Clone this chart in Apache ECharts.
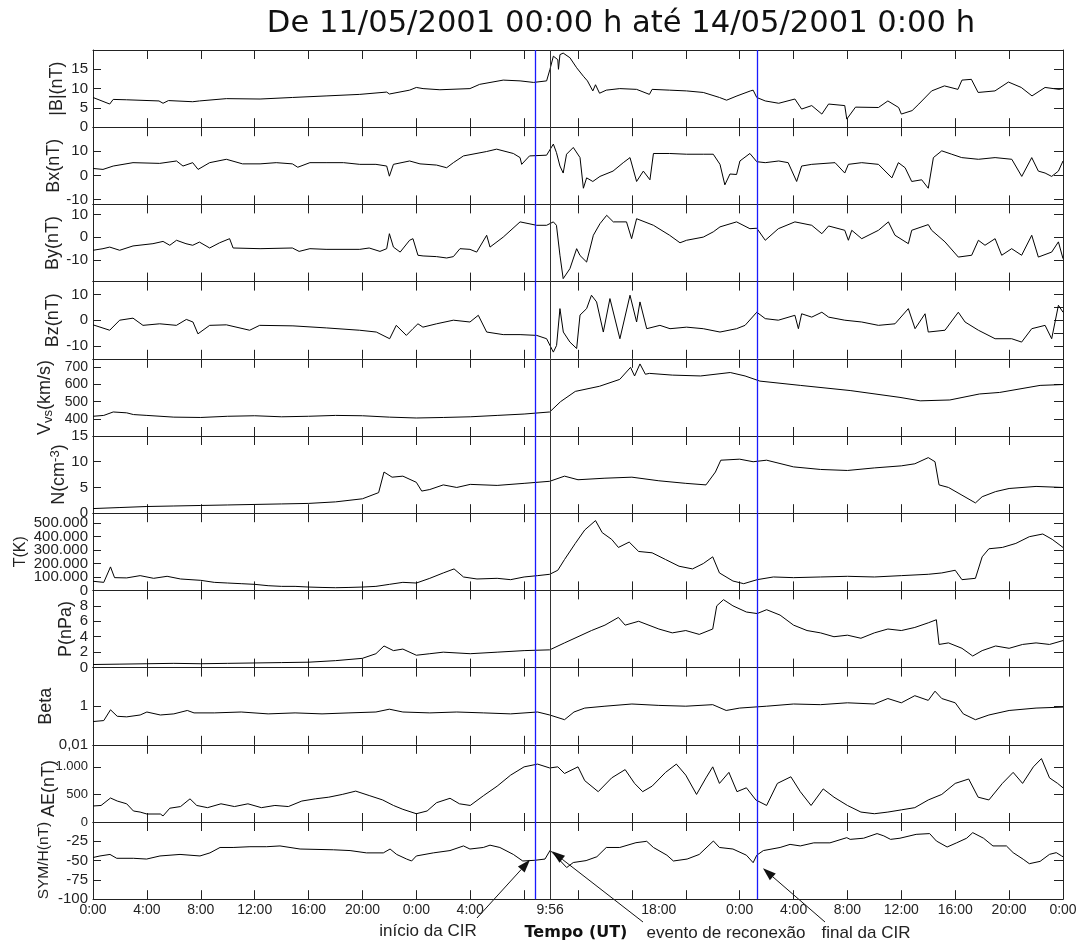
<!DOCTYPE html>
<html>
<head>
<meta charset="utf-8">
<script src="https://cdn.jsdelivr.net/npm/echarts@6/dist/echarts.min.js"></script>
<style>
  html, body { margin: 0; padding: 0; background: #fff; }
  #chart { width: 1080px; height: 944px; }
</style>
</head>
<body>
<div id="chart"></div>
<script>
// Solar wind / geomagnetic parameters, 11-14 May 2001.
// x values are hours since 11/05/2001 00:00 UT.

const bMag = [[0,7.7],[1.24,6.0],[1.5,7.2],[2.5,7.1],[4.9,6.8],[5.2,6.2],[5.6,6.9],[7.4,6.6],[7.9,6.8],[9.9,7.4],[12.4,7.3],[14.8,7.7],[17.3,8.1],[19.8,8.5],[21.8,9.1],[22.0,8.6],[23.5,9.6],[24.0,10.3],[24.5,10.0],[25.75,9.7],[27.98,10.0],[28.7,11.1],[30.45,12.2],[31.7,12.0],[32.7,11.6],[33.67,12.0],[33.92,15],[34.17,18.4],[34.5,17.5],[34.55,15],[34.66,18.8],[34.9,19.2],[35.4,18.0],[35.9,15.4],[36.4,13.2],[36.7,12.0],[37.1,9.4],[37.3,11],[37.6,8.8],[38.1,9.6],[39.1,10],[40.35,9.8],[41.3,8.5],[41.5,9.8],[42.8,9.6],[44.06,9.4],[45.3,9.0],[46.5,7.7],[47.03,7.0],[47.8,8.1],[48.8,9.4],[49.0,9.6],[49.27,7.7],[49.9,6.8],[50.9,6.2],[52.1,7.3],[52.6,4.7],[53.35,5.6],[54.1,3.4],[54.6,6.0],[55.8,5.6],[55.95,2.1],[56.6,5.2],[58.3,5.1],[59.0,6.8],[59.8,5.1],[60.0,3.4],[60.8,4.3],[61.3,6.0],[62.25,9.4],[63.2,10.7],[64.2,9.8],[64.5,12.2],[65.2,12.4],[65.7,9.0],[66.95,9.4],[67.95,11.7],[68.9,10.3],[69.7,8.1],[70.67,10.3],[71.7,9.8],[72,10.0]];

const bx = [[0,2.9],[0.74,2.5],[1.5,3.9],[2.97,5.3],[4.95,5.0],[6.2,6.0],[6.68,3.9],[7.4,5.3],[7.8,2.5],[8.66,5.3],[9.9,6.7],[11.1,4.8],[12.4,4.8],[13.6,5.3],[14.8,4.8],[15.2,3.4],[16.1,5.3],[17.3,5.3],[18.6,5.3],[19.8,4.6],[21.0,4.6],[21.8,3.9],[22.0,-0.3],[22.3,4.6],[23.5,6.0],[24.27,4.8],[25.5,4.3],[26.25,3.2],[26.75,5.3],[27.5,8.1],[29.2,9.9],[29.96,10.9],[31.2,9.1],[31.7,7.4],[31.82,4.6],[32.4,8.1],[33.67,8.4],[34.17,13],[34.4,9.5],[34.66,3.9],[34.9,1],[35.15,8.8],[35.65,11.6],[36.15,7.4],[36.4,-5.3],[36.64,-1],[37.1,-2.5],[37.63,-0.4],[38.6,1.8],[39.36,5.3],[39.86,7.4],[40.35,-2.5],[40.85,1.8],[41.34,-1.8],[41.6,9.1],[42.8,9.1],[44.06,8.8],[45.3,8.8],[46.04,8.8],[46.54,4.6],[46.9,-3.9],[47.28,0.6],[47.77,0.4],[48.02,6],[48.76,9.1],[49.27,5.7],[49.9,5.3],[50.9,6],[51.6,5.3],[52.23,-2.5],[52.6,3.9],[53.35,4.6],[55.08,5.3],[55.8,1],[56.07,4.6],[57.06,5.3],[58.3,4.6],[59.3,-1],[59.78,5.3],[60.28,3.2],[60.77,-2.5],[61.51,-1.8],[62.0,-5.3],[62.13,-5.3],[62.38,7.4],[63.0,10.2],[63.74,8.8],[64.48,7.4],[65.72,6.7],[66.96,7.4],[68.2,6.7],[68.94,-0.4],[69.68,7.4],[70.17,1.8],[70.67,1],[71.16,-0.4],[71.66,1.8],[72,6]];

const by = [[0,-5.7],[0.74,-5.0],[1.24,-4.3],[1.98,-5.7],[2.97,-3.8],[4.45,-2.8],[5.2,-1.8],[5.7,-3.5],[6.2,-1.3],[6.9,-2.8],[7.4,-3.5],[7.9,-2.1],[8.66,-4.7],[9.4,-2.4],[10.14,-0.6],[10.4,-4.7],[12.4,-5.0],[14.8,-4.7],[15.3,-6.2],[16.1,-5.0],[17.3,-5.3],[19.8,-5.3],[20.5,-4.7],[21.3,-6.2],[21.8,-5.0],[22.0,1.6],[22.3,-4.3],[22.8,-6.5],[23.5,-1.3],[23.75,-0.6],[24.12,-7.9],[24.5,-8.2],[25.5,-8.5],[26.25,-9.1],[26.75,-8.5],[27.24,-5.0],[27.98,-5.3],[28.48,-6.5],[29.22,0.9],[29.47,-4.3],[30.45,0.1],[31.7,6.8],[32.93,5.3],[33.67,5.3],[34.17,6.8],[34.4,5.3],[34.66,-7.9],[34.9,-18.2],[35.4,-13.8],[35.9,-5.0],[36.15,-8.0],[36.64,-10.9],[37.14,0.9],[37.63,6.0],[38.13,9.7],[38.62,6.8],[39.6,6.8],[39.98,-0.6],[40.35,8.2],[41.6,5.3],[42.8,0.9],[43.57,-2.4],[44.06,-1.3],[45.3,0.1],[46.04,2.4],[46.54,4.6],[47.77,6.8],[48.76,3.8],[49.27,4.0],[49.9,-1.3],[50.87,3.8],[52.1,6.8],[53.35,5.3],[54.1,1.6],[54.6,5.0],[55.8,3.1],[56.07,-1.3],[56.32,3.1],[57.06,-0.6],[58.3,3.1],[59.04,6.8],[59.53,0.9],[60.52,-2.8],[60.77,3.1],[62.0,5.6],[62.25,3.1],[63.24,-2.0],[64.23,-8.7],[65.22,-7.9],[65.72,-1.3],[66.21,-3.5],[66.96,-0.6],[67.45,-7.9],[68.19,-5.0],[68.93,-7.9],[69.68,0.9],[70.17,-8.7],[71.16,-6.5],[71.66,-2.0],[72,-9.4]];

const bz = [[0,-1.8],[1.24,-3.9],[1.98,0],[2.97,0.8],[3.71,-2.0],[4.95,-1.4],[6.19,-2.0],[6.93,0.3],[7.42,-0.7],[7.79,-5.3],[8.66,-2.0],[9.9,-1.8],[11.63,-3.9],[12.37,-2.0],[14.84,-2.2],[17.32,-3.0],[19.79,-3.9],[21.03,-4.6],[22.02,-7.2],[22.51,-2.0],[23.26,-5.9],[23.75,-3.3],[24.12,-1.4],[24.49,-2.7],[25.5,-1.4],[26.75,0],[27.98,-0.7],[28.6,1.9],[29.22,-4.6],[30.45,-5.6],[31.7,-5.6],[32.93,-5.9],[33.67,-7.2],[34.17,-12.4],[34.41,-9.8],[34.66,4.5],[34.91,-4.6],[35.4,-8.5],[35.9,-11.0],[36.15,2.0],[36.64,4.5],[37.0,9.7],[37.38,7.1],[37.88,-4.6],[38.37,8.4],[39.11,-7.2],[39.86,9.7],[40.35,-0.7],[40.6,7.1],[41.1,-3.3],[42.08,-2.0],[42.83,-3.3],[44.06,-2.7],[45.3,-3.3],[46.54,-4.6],[47.77,-3.3],[48.4,-2.0],[49.27,3.1],[49.9,0.6],[50.87,0],[52.1,1.9],[52.36,-3.3],[52.6,2.5],[53.35,1.2],[54.1,3.1],[54.6,1.2],[55.8,0],[57.06,-0.7],[58.3,-2.0],[59.53,-1.4],[60.52,4.5],[61.02,-3.3],[61.76,2.5],[62.0,-4.6],[63.24,-3.9],[64.23,3.1],[64.73,-0.7],[65.72,-3.9],[66.96,-7.2],[68.19,-7.2],[68.93,-8.5],[69.68,-3.3],[70.67,-2.0],[71.16,-7.2],[71.66,5.8],[72,3.1]];

const vsw = [[0,415],[0.8,420],[1.5,440],[2.5,435],[3,425],[4,420],[6,410],[8,408],[10,415],[12,418],[14,412],[16,415],[18,420],[20,418],[22,410],[24,405],[26,408],[28,412],[30,420],[32,428],[33.9,440],[34.7,500],[35.8,560],[37.6,590],[39.1,630],[39.9,700],[40.2,650],[40.6,720],[41.0,660],[41.3,665],[43,655],[45.1,650],[47.3,670],[48.4,650],[49.5,620],[52.5,595],[56.2,565],[59.9,525],[61.4,505],[63.6,510],[65.8,545],[67.3,554],[70.3,595],[72,600]];

const dens = [[0,0.9],[2,1.1],[4,1.3],[6,1.4],[8,1.5],[10,1.6],[12,1.7],[14,1.8],[16,1.9],[18,2.2],[20,2.8],[21.2,4],[21.6,8],[22.2,7],[23,7.2],[24,6],[24.4,4.3],[25,4.6],[26,5.5],[27,5.0],[28,5.6],[30,5.4],[32,5.8],[33.9,6.2],[35,7.2],[36,6.5],[38,6.8],[40,7.0],[42,6.3],[44,5.8],[45.5,5.5],[46.2,8],[46.6,10.3],[48,10.5],[49,10.0],[50,10.3],[52,9.0],[54,8.5],[56,8.3],[58,8.8],[60,9.2],[61,9.6],[62,10.8],[62.5,10],[62.8,5.5],[63.5,5.0],[64.5,3.5],[65.5,2.0],[66,3.2],[67,4.2],[68,4.8],[70,5.2],[72,5.0]];

const temp = [[0,68000],[0.8,60000],[1.3,175000],[1.6,95000],[2.5,93000],[3.5,110000],[4.5,90000],[5.5,105000],[6.5,85000],[8,75000],[9,60000],[10,55000],[11,50000],[12,45000],[13,35000],[14,30000],[15,30000],[16,25000],[17,22000],[18,20000],[19,22000],[20,25000],[21,30000],[22,45000],[23,60000],[24,55000],[25,90000],[26,130000],[26.8,160000],[27.5,100000],[28.5,85000],[30,90000],[31,80000],[32,100000],[33,110000],[33.9,120000],[34.5,150000],[35,230000],[35.8,350000],[36.5,450000],[37.3,520000],[37.8,430000],[38.5,380000],[39,320000],[39.8,360000],[40.5,290000],[41.5,280000],[42.5,230000],[43.5,180000],[44.5,160000],[45.3,200000],[46,250000],[46.5,130000],[47.5,70000],[48.3,50000],[49.3,80000],[50.5,100000],[52,95000],[54,100000],[56,105000],[58,100000],[60,110000],[62,120000],[63,130000],[64,150000],[64.5,80000],[65.5,90000],[66,250000],[66.5,310000],[67.5,320000],[68.5,350000],[69.5,400000],[70.5,420000],[71.2,380000],[72,320000]];

const pdyn = [[0,0.4],[2,0.45],[4,0.5],[6,0.55],[8,0.5],[10,0.55],[12,0.6],[14,0.65],[16,0.7],[18,0.9],[20,1.2],[21,1.8],[21.6,2.8],[22.3,2.2],[23,2.4],[24,1.6],[25,1.8],[26,2.0],[28,1.8],[30,2.0],[32,2.2],[33.9,2.3],[35,3.2],[36,4.0],[37,4.8],[38,5.5],[39,6.5],[39.5,5.5],[40.5,6.0],[42,5.0],[43,4.5],[44,4.8],[45,4.3],[46,5.0],[46.3,8.0],[46.8,8.8],[47.5,8.0],[48.5,7.2],[49.3,7.0],[50,7.5],[51,6.8],[52,5.5],[53,4.8],[54,4.5],[55,4.0],[56,4.2],[57,3.8],[58,4.5],[59,5.0],[60,4.8],[61,5.2],[62,5.8],[62.6,6.2],[62.8,3.0],[63.5,3.2],[64.5,2.5],[65.3,1.5],[66,2.2],[67,2.8],[68,2.5],[69,3.0],[70,3.2],[71,3.0],[72,3.5]];

const beta = [[0,0.16],[0.8,0.18],[1.3,0.65],[1.8,0.3],[2.5,0.28],[3.5,0.35],[4,0.5],[5,0.35],[6,0.4],[7,0.6],[7.5,0.45],[9,0.45],[11,0.5],[13,0.4],[15,0.45],[17,0.4],[19,0.45],[21,0.5],[22,0.7],[23,0.5],[25,0.45],[27,0.5],[29,0.45],[31,0.4],[33,0.5],[33.9,0.35],[35,0.2],[35.7,0.5],[36.5,0.8],[38,1.0],[40,1.3],[42,1.1],[44,1.0],[46,1.2],[47,0.6],[48,0.8],[50,1.0],[52,1.3],[54,1.2],[56,1.5],[58,1.3],[59,2.5],[60,1.5],[61,3.5],[62,2.0],[62.5,6],[63,2.5],[64,1.5],[64.6,0.4],[65.5,0.2],[66.5,0.35],[68,0.6],[70,0.8],[72,0.9]];

const ae = [[0,290],[0.6,300],[1.3,435],[1.8,380],[2.5,330],[3,200],[3.5,180],[4,145],[5,145],[5.2,110],[5.7,250],[6.5,280],[7.2,420],[7.7,300],[8.5,260],[9.5,330],[10.5,280],[11.5,330],[12.5,260],[13.5,300],[14.5,280],[15.5,380],[16.5,420],[17.5,450],[18.5,500],[19.5,560],[20.5,480],[21.5,400],[22.3,300],[23,230],[24,150],[24.8,200],[25.5,350],[26.5,430],[27.2,330],[28,300],[29,480],[30,650],[31,850],[32,1000],[33,1050],[33.9,980],[34.5,1000],[35,880],[36,1000],[36.5,750],[37.5,550],[38.5,800],[39.5,950],[40.2,700],[40.8,550],[41.5,650],[42.5,900],[43.3,1050],[44,850],[44.8,500],[45.5,800],[46,1000],[46.5,700],[47.2,900],[47.8,550],[48.5,620],[49.2,400],[50,300],[50.8,700],[51.8,820],[52.5,550],[53.3,300],[54.2,600],[55,450],[56,300],[57,180],[58,150],[59,180],[60,220],[61,260],[62,400],[63,500],[64,700],[65,780],[65.7,450],[66.5,400],[67.5,700],[68.3,900],[69,700],[69.8,1000],[70.4,1150],[71,800],[71.6,700],[72,620]];

const symh = [[0,-46],[0.52,-44],[1.26,-42],[1.76,-47],[2.99,-47],[3.98,-48],[4.97,-44],[6.46,-42],[7.94,-44],[8.68,-40],[9.43,-33],[10.4,-33],[11.65,-32],[12.89,-32],[13.88,-31],[15.37,-35],[17.84,-36],[19.08,-37],[20.3,-40],[21.55,-40],[22.05,-35],[22.54,-42],[23.28,-48],[23.65,-50.5],[24.0,-44],[25.26,-40],[26.5,-37],[27.5,-31],[27.98,-35],[28.97,-33],[29.47,-30],[30.2,-33],[31.2,-42],[31.9,-50.5],[32.4,-50],[32.8,-49.6],[33.55,-48],[33.93,-36.7],[34.4,-45],[35.16,-59],[35.65,-52.5],[36.6,-50],[37.4,-45],[38.1,-33],[39.1,-33],[40.3,-26.8],[41.1,-25],[41.6,-33],[42.6,-43],[43.08,-50.5],[44.1,-48],[45.0,-42],[46.05,-24.6],[46.5,-33],[47.5,-35],[48.5,-43],[49.0,-52.7],[49.27,-43],[49.76,-37],[51.0,-33],[51.74,-29],[52.5,-31],[53.5,-27],[54.7,-27],[55.95,-20.3],[56.2,-22.5],[57.2,-21],[58.2,-15],[58.7,-18],[59.2,-22.5],[59.9,-21],[61.1,-16],[62.1,-15],[62.6,-24.6],[63.4,-32.4],[64.1,-27],[64.85,-21],[65.3,-13.8],[66.1,-21],[66.8,-31],[67.8,-31],[68.3,-39.7],[69.05,-48.3],[69.5,-54],[70.3,-51],[71.0,-41.9],[71.5,-39.7],[71.9,-44],[72,-45]];

// Tick values for the y axes
const ticksB = [0, 5, 10, 15];
const ticksBx = [-10, 0, 10];
const ticksBy = [-10, 0, 10];
const ticksBz = [-10, -5, 0, 5, 10];
const ticksV = [400, 500, 600, 700];
const ticksN = [0, 5, 10, 15];
const ticksT = [0, 100000, 200000, 300000, 400000, 500000];
const ticksP = [0, 2, 4, 6, 8];
const ticksBeta = [0.01, 1];
const ticksAE = [0, 500, 1000];
const ticksSym = [-100, -75, -50, -25];

// Time axis labels (hours) and event markers
const timeLabels = [0, 4, 8, 12, 16, 20, 24, 28, 33.933, 42, 48, 52, 56, 60, 64, 68, 72];
const cirStart = 32.8;
const reconnection = 33.933;
const cirEnd = 49.3;

const panels = [
  { name: '|B|(nT)', data: bMag, min: 0, max: 20, ticks: ticksB, gap: 27 },
  { name: 'Bx(nT)', data: bx, min: -12, max: 20, ticks: ticksBx, gap: 30 },
  { name: 'By(nT)', data: by, min: -19.5, max: 14.5, ticks: ticksBy, gap: 31 },
  { name: 'Bz(nT)', data: bz, min: -15, max: 15, ticks: ticksBz, gap: 31 },
  { name: '{a|V}{s|vs}{a|(km/s)}', data: vsw, min: 300, max: 750, ticks: ticksV, gap: 38, labelSize: 14 },
  { name: '{a|N(cm}{p|-3}{a|)}', data: dens, min: 0, max: 15, ticks: ticksN, gap: 24 },
  // the crowded temperature labels are split over two label rows sharing the same scale
  { name: 'T(K)', data: temp, min: 0, max: 575000, ticks: ticksT, gap: 64, nameSize: 16, labelSize: 15,
    labelSplit: true, fmt: v => v === 0 ? '0' : Math.round(v / 1000) + '.000' },
  { name: 'P(nPa)', data: pdyn, min: 0, max: 10, ticks: ticksP, gap: 18 },
  { name: 'Beta', data: beta, min: 0.01, max: 100, ticks: ticksBeta, gap: 38, log: true,
    fmt: v => v < 0.1 ? '0,01' : '1' },
  { name: 'AE(nT)', data: ae, min: 0, max: 1400, ticks: ticksAE, gap: 35, labelSize: 13,
    namePad: [0, 10, 0, 0], fmt: v => v === 1000 ? '1.000' : String(v) },
  { name: 'SYM/H(nT)', data: symh, min: -100, max: 0, ticks: ticksSym, gap: 41, nameSize: 15.5 }
];

const TOP = 50, PANEL_H = 77.2, LEFT = 93, RIGHT = 17;
const AXIS_COLOR = '#222';
const FONT = 'Liberation Sans, Arial, sans-serif';

const grids = [], xAxes = [], yAxes = [], series = [];
panels.forEach((p, i) => {
  grids.push({ left: LEFT, right: RIGHT, top: TOP + i * PANEL_H, height: PANEL_H });
  const last = i === panels.length - 1;
  const xBase = {
    gridIndex: i, type: 'value', min: 0, max: 72, interval: 4,
    splitLine: { show: false },
    axisLine: { show: true, onZero: false, lineStyle: { color: AXIS_COLOR, width: 1 } },
    axisTick: { show: true, inside: true, length: 9, lineStyle: { color: AXIS_COLOR } }
  };
  const xIndex = xAxes.length;
  xAxes.push(Object.assign({}, xBase, {
    position: 'bottom',
    axisLabel: last ? {
      show: true, customValues: timeLabels, margin: 4, hideOverlap: false,
      color: '#222', fontFamily: FONT, fontSize: 14,
      formatter: v => Math.abs(v - reconnection) < 0.01 ? '9:56' : (Math.round(v) % 24) + ':00'
    } : { show: false }
  }));
  xAxes.push(Object.assign({}, xBase, { position: 'top', axisLabel: { show: false } }));

  const nameSize = p.nameSize || 18;
  const yBase = {
    gridIndex: i, type: p.log ? 'log' : 'value', min: p.min, max: p.max,
    splitLine: { show: false },
    axisLine: { show: true, onZero: false, lineStyle: { color: AXIS_COLOR, width: 1 } }
  };
  if (p.log) yBase.logBase = 10;
  const labelFor = values => ({
    show: true, customValues: values, margin: 5, color: '#222',
    fontFamily: FONT, fontSize: p.labelSize || 15,
    showMinLabel: true, showMaxLabel: true, hideOverlap: false,
    formatter: p.fmt || (v => String(v))
  });
  const mainLabels = p.labelSplit ? p.ticks.filter((v, k) => k % 2 === 0) : p.ticks;
  const yIndex = yAxes.length;
  const nameStyle = {
    color: '#222', fontFamily: FONT, fontSize: nameSize,
    rich: {
      a: { fontFamily: FONT, fontSize: nameSize, color: '#222' },
      s: { fontFamily: FONT, fontSize: 13, color: '#222', verticalAlign: 'bottom', padding: [7, 0, 0, 0] },
      p: { fontFamily: FONT, fontSize: 13, color: '#222', verticalAlign: 'top', padding: [0, 0, 7, 0] }
    }
  };
  if (p.namePad) nameStyle.padding = p.namePad;
  yAxes.push(Object.assign({}, yBase, {
    position: 'left',
    name: p.name, nameLocation: 'middle', nameGap: p.gap, nameRotate: 90,
    nameMoveOverlap: false,
    nameTextStyle: nameStyle,
    axisTick: { show: true, inside: true, length: 8, customValues: p.ticks, lineStyle: { color: AXIS_COLOR } },
    axisLabel: labelFor(mainLabels)
  }));
  yAxes.push(Object.assign({}, yBase, {
    position: 'right',
    axisTick: { show: true, inside: true, length: 9, customValues: p.ticks, lineStyle: { color: AXIS_COLOR } },
    axisLabel: { show: false }
  }));
  if (p.labelSplit) {
    yAxes.push(Object.assign({}, yBase, {
      position: 'left', offset: 0,
      axisLine: { show: false, onZero: false },
      axisTick: { show: false },
      axisLabel: labelFor(p.ticks.filter((v, k) => k % 2 === 1))
    }));
  }

  series.push({
    type: 'line', xAxisIndex: xIndex, yAxisIndex: yIndex, data: p.data,
    showSymbol: false, symbol: 'none', clip: true,
    lineStyle: { color: '#000', width: 1 },
    markLine: {
      silent: true, symbol: 'none', label: { show: false }, animation: false,
      data: [
        { xAxis: cirStart, lineStyle: { color: '#1a1aff', width: 1.3, type: 'solid' } },
        { xAxis: reconnection, lineStyle: { color: '#333', width: 1, type: 'solid' } },
        { xAxis: cirEnd, lineStyle: { color: '#1a1aff', width: 1.3, type: 'solid' } }
      ]
    }
  });
});

const chart = echarts.init(document.getElementById('chart'), null, { renderer: 'canvas' });
chart.setOption({
  animation: false,
  backgroundColor: '#fff',
  title: {
    text: 'De 11/05/2001 00:00 h até 14/05/2001 0:00 h',
    left: 616, top: 4, textAlign: 'center',
    textStyle: { fontFamily: 'DejaVu Sans, sans-serif', fontSize: 30.6, fontWeight: 'normal', color: '#111' }
  },
  grid: grids, xAxis: xAxes, yAxis: yAxes, series: series
});

// Annotation arrows pointing at the SYM/H curve
const symGrid = panels.length - 1;
const notes = [
  { text: 'início da CIR', at: [32.44, -49], tail: [477, 918], tx: 428, ty: 931 },
  { text: 'evento de reconexão', at: [34.07, -38], tail: [643, 922], tx: 726, ty: 933 },
  { text: 'final da CIR', at: [49.73, -60], tail: [825, 922], tx: 866, ty: 933 }
];
const graphics = [];
notes.forEach(n => {
  const tip = chart.convertToPixel({ gridIndex: symGrid }, n.at);
  const dx = tip[0] - n.tail[0], dy = tip[1] - n.tail[1];
  const len = Math.sqrt(dx * dx + dy * dy);
  const ux = dx / len, uy = dy / len;
  const headL = 13, headW = 4.5;
  const bx0 = tip[0] - ux * headL, by0 = tip[1] - uy * headL;
  graphics.push({
    type: 'line', silent: true,
    shape: { x1: n.tail[0], y1: n.tail[1], x2: bx0, y2: by0 },
    style: { stroke: '#111', lineWidth: 1 }
  });
  graphics.push({
    type: 'polygon', silent: true,
    shape: { points: [tip, [bx0 - uy * headW, by0 + ux * headW], [bx0 + uy * headW, by0 - ux * headW]] },
    style: { fill: '#111' }
  });
  graphics.push({
    type: 'text', silent: true, x: n.tx, y: n.ty,
    style: { text: n.text, fill: '#222', font: '17px ' + FONT, textAlign: 'center', textVerticalAlign: 'middle' }
  });
});
graphics.push({
  type: 'text', silent: true, x: 576, y: 933,
  style: { text: 'Tempo (UT)', fill: '#111', font: 'bold 16px DejaVu Sans, sans-serif', textAlign: 'center', textVerticalAlign: 'middle' }
});
chart.setOption({ graphic: graphics });
</script>
</body>
</html>
